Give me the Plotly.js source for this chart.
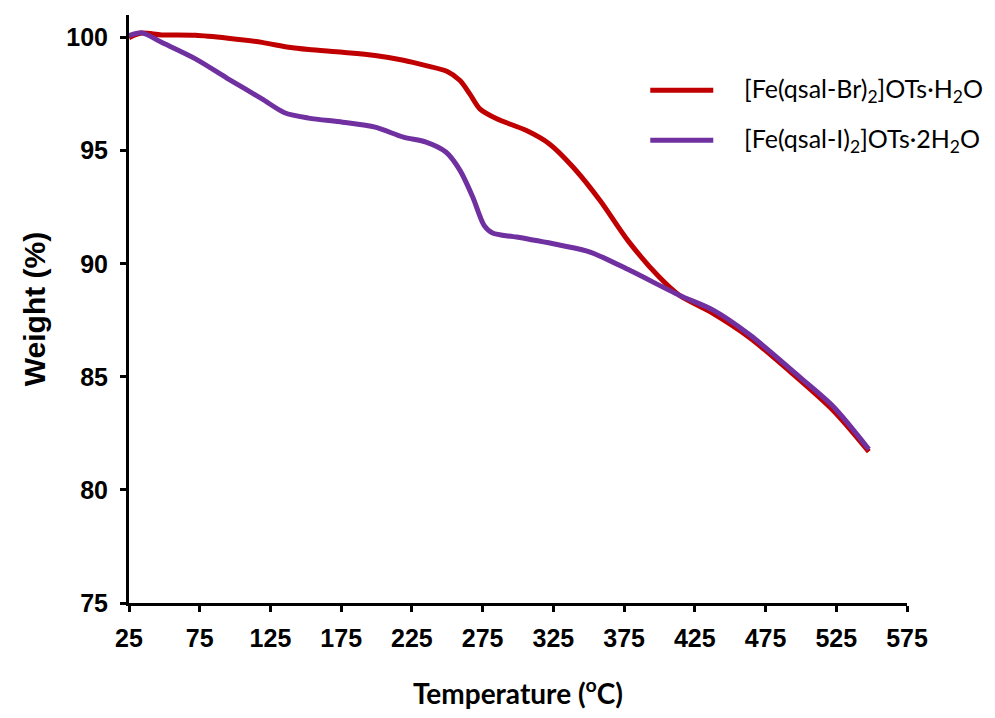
<!DOCTYPE html>
<html>
<head>
<meta charset="utf-8">
<script src="https://cdn.plot.ly/plotly-3.0.1.min.js"></script>
<style>html,body{margin:0;padding:0;background:#fff;}#chart{width:995px;height:718px;}</style>
</head>
<body>
<div id="chart"></div>
<script>
// Temperature (°C) and weight (%)
const brName = '[Fe(qsal-Br)<sub>2</sub>]OTs·H<sub>2</sub>O';
const brTemp = [25, 34, 48, 72, 95, 119, 138, 152, 176, 199, 219, 235, 250, 259, 266, 273, 285, 306, 322, 339, 358, 378, 400, 414, 436, 464, 492, 523, 548];
const brWeight = [100.0, 100.2, 100.12, 100.1, 99.97, 99.79, 99.57, 99.47, 99.35, 99.21, 99.0, 98.76, 98.5, 98.1, 97.5, 96.85, 96.41, 95.89, 95.31, 94.27, 92.8, 91.0, 89.4, 88.61, 87.87, 86.72, 85.25, 83.5, 81.69];

const iName = '[Fe(qsal-I)<sub>2</sub>]OTs·2H<sub>2</sub>O';
const iTemp = [25, 34, 48, 72, 95, 119, 135, 152, 176, 199, 219, 235, 249, 259, 268, 276, 282, 299, 330, 351, 379, 414, 438, 464, 499, 523, 548];
const iWeight = [100.09, 100.21, 99.79, 99.06, 98.18, 97.29, 96.68, 96.44, 96.26, 96.04, 95.6, 95.38, 94.94, 94.13, 92.95, 91.70, 91.36, 91.18, 90.82, 90.52, 89.71, 88.61, 87.95, 86.85, 85.0, 83.68, 81.80];

const xTicks = [25, 75, 125, 175, 225, 275, 325, 375, 425, 475, 525, 575];
const yTicks = [75, 80, 85, 90, 95, 100];

const colors = ['#C00000', '#7030A0'];

const traces = [
  {x: brTemp, y: brWeight, name: brName, mode: 'lines', line: {color: colors[0], width: 5, shape: 'spline', smoothing: 0.8}, showlegend: false},
  {x: iTemp, y: iWeight, name: iName, mode: 'lines', line: {color: colors[1], width: 5, shape: 'spline', smoothing: 0.8}, showlegend: false}
];

const axisFont = {family: 'Liberation Sans, Arial, sans-serif', size: 25, color: '#000', weight: 'bold'};

const legendRows = [{name: brName, color: colors[0], y: 0.872}, {name: iName, color: colors[1], y: 0.787}];
const shapes = legendRows.map(r => ({type: 'line', xref: 'paper', yref: 'paper', x0: 0.670, x1: 0.751, y0: r.y, y1: r.y, line: {color: r.color, width: 5}}));
const annotations = legendRows.map(r => ({xref: 'paper', yref: 'paper', x: 0.788, y: r.y, xanchor: 'left', yanchor: 'middle', text: r.name, showarrow: false, font: {family: 'Lato, sans-serif', size: 25, color: '#000'}}));

const layout = {
  width: 995, height: 718,
  margin: {l: 129, r: 88, t: 15, b: 115},
  paper_bgcolor: '#fff', plot_bgcolor: '#fff',
  showlegend: false,
  xaxis: {
    range: [25, 575], tickvals: xTicks, ticktext: xTicks.map(String),
    showline: true, linecolor: '#000', linewidth: 3,
    ticks: 'outside', ticklen: 6, tickwidth: 3, tickcolor: '#000',
    showgrid: false, zeroline: false, tickfont: axisFont, ticklabelstandoff: 5,
    title: {text: 'Temperature (<sup>o</sup>C)', font: {family: 'Lato, sans-serif', size: 28, color: '#000', weight: 'bold'}, standoff: 34}
  },
  yaxis: {
    range: [75, 101], tickvals: yTicks, ticktext: yTicks.map(String),
    showline: true, linecolor: '#000', linewidth: 3,
    ticks: 'outside', ticklen: 6, tickwidth: 3, tickcolor: '#000',
    showgrid: false, zeroline: false, tickfont: axisFont, ticklabelstandoff: 7,
    title: {text: 'Weight (%)', font: {family: 'Liberation Sans, Arial, sans-serif', size: 30, color: '#000', weight: 'bold'}, standoff: 12}
  },
  shapes: shapes,
  annotations: annotations
};

Plotly.newPlot('chart', traces, layout, {displayModeBar: false, staticPlot: true});
</script>
</body>
</html>
